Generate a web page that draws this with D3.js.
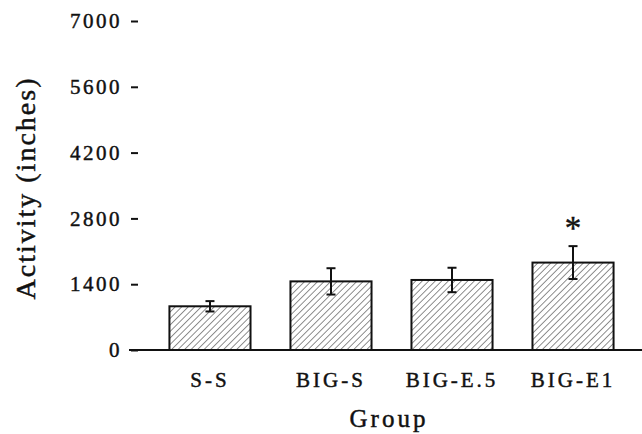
<!DOCTYPE html>
<html>
<head>
<meta charset="utf-8">
<script src="https://cdn.jsdelivr.net/npm/d3@7"></script>
<style>
  html, body { margin: 0; padding: 0; background: #fff; }
  svg { display: block; }
  svg text { stroke: #111; stroke-width: 0.45px; }
</style>
</head>
<body>
<svg id="chart" width="642" height="434"></svg>
<script>
// Group means and standard errors of activity (inches)
const groups = ["S-S", "BIG-S", "BIG-E.5", "BIG-E1"];
const means  = [930, 1460, 1490, 1860];
const errors = [110, 280, 260, 350];
const significant = [false, false, false, true];
const yTicks = [0, 1400, 2800, 4200, 5600, 7000];

const serif = "'Liberation Serif', 'DejaVu Serif', serif";

const svg = d3.select("#chart");

const x = d3.scaleBand()
  .domain(groups)
  .range([129.5, 653.5])
  .paddingInner(0.33)
  .paddingOuter(0.33);

const y = d3.scaleLinear()
  .domain([0, 7000])
  .range([350, 21]);

// diagonal hatch fill for the bars
const defs = svg.append("defs");
const pat = defs.append("pattern")
  .attr("id", "hatch")
  .attr("patternUnits", "userSpaceOnUse")
  .attr("width", 4.6)
  .attr("height", 4.6)
  .attr("patternTransform", "rotate(45)");
pat.append("rect").attr("width", 4.6).attr("height", 4.6).attr("fill", "#fff");
pat.append("line")
  .attr("x1", 0).attr("y1", 0).attr("x2", 0).attr("y2", 4.6)
  .attr("stroke", "#333").attr("stroke-width", 1.1);

// y axis: short tick dashes and labels, no spine
const yAxis = d3.axisLeft(y)
  .tickValues(yTicks)
  .tickSize(7)
  .tickPadding(9)
  .tickFormat(d3.format("d"));
const gy = svg.append("g")
  .attr("transform", "translate(138,0)")
  .call(yAxis)
  .attr("font-family", null)
  .attr("font-size", null);
gy.select(".domain").remove();
gy.selectAll(".tick line").attr("stroke", "#111").attr("stroke-width", 2);
gy.selectAll(".tick text")
  .style("font-family", serif)
  .style("font-size", "21px")
  .style("letter-spacing", "2.5px")
  .attr("fill", "#111");

// bars
const data = groups.map((g, i) => ({ g, m: means[i], e: errors[i], s: significant[i] }));
svg.append("g").selectAll("rect")
  .data(data)
  .join("rect")
  .attr("x", d => x(d.g))
  .attr("y", d => y(d.m))
  .attr("width", x.bandwidth())
  .attr("height", d => y(0) - y(d.m))
  .attr("fill", "url(#hatch)")
  .attr("stroke", "#111")
  .attr("stroke-width", 2);

// error bars
const eb = svg.append("g").attr("stroke", "#111").attr("stroke-width", 2);
data.forEach(d => {
  const cx = x(d.g) + x.bandwidth() / 2;
  const y1 = y(d.m + d.e), y2 = y(d.m - d.e);
  eb.append("line").attr("x1", cx).attr("x2", cx).attr("y1", y1).attr("y2", y2);
  eb.append("line").attr("x1", cx - 4.5).attr("x2", cx + 4.5).attr("y1", y1).attr("y2", y1);
  eb.append("line").attr("x1", cx - 4.5).attr("x2", cx + 4.5).attr("y1", y2).attr("y2", y2);
});

// significance marker
svg.append("g").selectAll("text")
  .data(data.filter(d => d.s))
  .join("text")
  .attr("x", d => x(d.g) + x.bandwidth() / 2)
  .attr("y", d => y(d.m + d.e) - 7)
  .attr("text-anchor", "middle")
  .attr("fill", "#111")
  .style("font-family", serif)
  .style("font-size", "33px")
  .text("*");

// baseline
svg.append("line")
  .attr("x1", 129).attr("x2", 642)
  .attr("y1", y(0)).attr("y2", y(0))
  .attr("stroke", "#111").attr("stroke-width", 2.2);

// category labels
const xAxis = d3.axisBottom(x).tickSize(0).tickPadding(0);
const gx = svg.append("g")
  .attr("transform", "translate(0,350)")
  .call(xAxis)
  .attr("font-family", null)
  .attr("font-size", null);
gx.select(".domain").remove();
gx.selectAll(".tick text")
  .attr("dy", null)
  .attr("y", 37)
  .style("font-family", serif)
  .style("font-size", "21px")
  .style("letter-spacing", "3px")
  .attr("fill", "#111");

// axis titles
svg.append("text")
  .attr("x", 389)
  .attr("y", 427)
  .attr("text-anchor", "middle")
  .attr("fill", "#111")
  .style("font-family", serif)
  .style("font-size", "25px")
  .style("letter-spacing", "3px")
  .text("Group");

svg.append("text")
  .attr("transform", "translate(35,188) rotate(-90)")
  .attr("text-anchor", "middle")
  .attr("fill", "#111")
  .style("font-family", serif)
  .style("font-size", "28px")
  .style("letter-spacing", "2px")
  .text("Activity (inches)");
</script>
</body>
</html>
